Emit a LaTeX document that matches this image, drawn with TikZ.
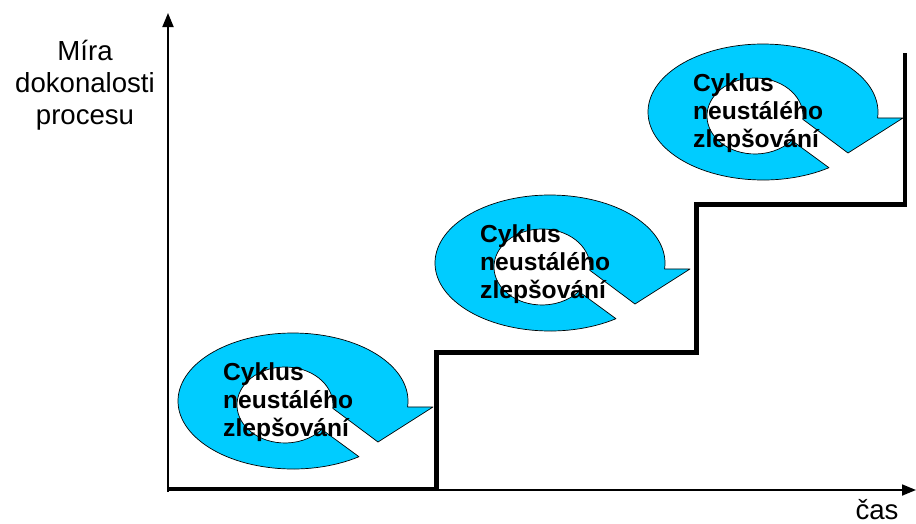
\documentclass[tikz,border=0pt]{standalone}
\usepackage{fontspec}
\setmainfont{Liberation Sans}
\usetikzlibrary{arrows.meta}

\definecolor{ringcyan}{RGB}{0,204,255}

\tikzset{
  axisline/.style={line width=1.8pt, -{Triangle[length=14pt,width=11pt]}},
  stairline/.style={line width=4.6pt, line join=miter, line cap=butt},
  ringshape/.style={fill=ringcyan, draw=black, line width=0.7pt, line join=round},
  ringtext/.style={font=\fontsize{24.6}{28}\selectfont\bfseries, align=left,
                   anchor=north west, inner sep=0pt},
  axislabel/.style={font=\fontsize{27.6}{32}\selectfont, align=center, inner sep=0pt},
  % circular arrow around its own centre: C-shaped ring with a head on the right
  pics/cyclearrow/.style={code={
    \path[ringshape]
      (55:115 and 68)
      arc[start angle=55, end angle=365, x radius=115, y radius=68]
      -- (140,6) -- (85,41) -- (39.8,7.3)
      arc[start angle=365, end angle=40, x radius=48, y radius=38]
      -- cycle;
    \node[ringtext] (-label) at (-70,-39) {Cyklus\\neustálého\\zlepšování};
  }}
}

\begin{document}
\begin{tikzpicture}[x=1pt, y=-1pt]
  \useasboundingbox (0,0) rectangle (916,523);

  % axes
  \coordinate (origin) at (168,492);
  \coordinate (ytip) at (168,13);
  \coordinate (xstart) at (168,490);
  \coordinate (xtip) at (916,490);
  \draw[axisline] (origin) -- (ytip);
  \draw[axisline] (xstart) -- (xtip);

  \node[axislabel, anchor=north] (ylabel) at (85,40) {Míra\\dokonalosti\\procesu};
  \node[axislabel, anchor=base] (xlabel) at (877,519) {čas};

  % three improvement cycles
  \pic (c1) at (293,401) {cyclearrow};
  \pic (c2) at (550,263) {cyclearrow};
  \pic (c3) at (763,112) {cyclearrow};

  % staircase of process maturity
  \draw[stairline] (168,489) -- (436.5,489) -- (436.5,352.5) -- (696.5,352.5)
                   -- (696.5,204.5) -- (905,204.5) -- (905,53);
\end{tikzpicture}
\end{document}
